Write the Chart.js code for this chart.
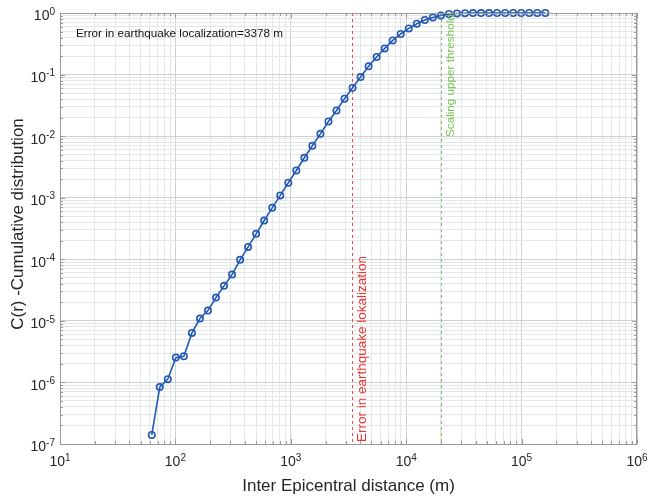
<!DOCTYPE html>
<html>
<head>
<meta charset="utf-8">
<script src="https://cdn.jsdelivr.net/npm/chart.js@4.4.1/dist/chart.umd.min.js"></script>
<style>
  html, body { margin: 0; padding: 0; background: #fff; }
  #wrap { width: 647px; height: 496px; position: relative; }
</style>
</head>
<body>
<div id="wrap"><canvas id="chartCorr"></canvas></div>
<script>
// distances (m) and cumulative distribution C(r)
const distances = [62.4, 73.2, 85.9, 100.9, 118.4, 139.0, 163.2, 191.5, 224.8, 263.9,
  309.7, 363.6, 426.8, 501.0, 588.0, 690.2, 810.2, 951.0, 1116, 1311,
  1538, 1806, 2120, 2488, 2920, 3428, 4024, 4723, 5544, 6508,
  7638, 8966, 10524, 12353, 14500, 17022, 19980, 23453, 27530, 32315,
  37931, 44524, 52264, 61349, 72012, 84528, 99220, 116466, 136710, 160472];
const cumulative = [1.40e-7, 8.4e-7, 1.13e-6, 2.53e-6, 2.66e-6, 6.37e-6, 1.09e-5, 1.47e-5, 2.39e-5, 3.70e-5,
  5.65e-5, 9.8e-5, 1.59e-4, 2.59e-4, 4.26e-4, 6.85e-4, 1.09e-3, 1.75e-3, 2.77e-3, 4.45e-3,
  6.97e-3, 1.09e-2, 1.73e-2, 2.61e-2, 4.05e-2, 6.11e-2, 9.12e-2, 0.136, 0.193, 0.266,
  0.359, 0.456, 0.562, 0.670, 0.769, 0.848, 0.914, 0.963, 0.984, 0.993,
  0.997, 0.998, 0.999, 0.9995, 1, 1, 1, 1, 1, 1];

const xDecades = [1, 2, 3, 4, 5, 6];
const yDecades = [-7, -6, -5, -4, -3, -2, -1, 0];

const erreurLocalisation = 3378;   // m
const seuilEchelle = 20000;        // m

const police = "'Liberation Sans', Arial, sans-serif";

function ticksLog(decades) {
  const out = [];
  for (let i = 0; i < decades.length; i++) {
    const base = Math.pow(10, decades[i]);
    if (i === decades.length - 1) { out.push({ value: base }); break; }
    for (let m = 1; m <= 9; m++) out.push({ value: m * base });
  }
  return out;
}

function estDecade(v) {
  const l = Math.log10(v);
  return Math.abs(l - Math.round(l)) < 1e-6;
}

function couleurGrille(ctx) {
  if (!ctx.tick) return '#e2e7e7';
  return estDecade(ctx.tick.value) ? '#cbd2d2' : '#e2e7e7';
}

// lignes verticales en pointillés
const lignesRepere = {
  id: 'lignesRepere',
  beforeDatasetsDraw(chart) {
    const { ctx, chartArea: a, scales: { x } } = chart;
    ctx.save();
    ctx.lineWidth = 1;
    ctx.setLineDash([3, 3]);
    [[erreurLocalisation, '#f24a4a'], [seuilEchelle, '#7cc35a']].forEach(([v, c]) => {
      const px = Math.round(x.getPixelForValue(v)) + 0.5;
      ctx.strokeStyle = c;
      ctx.beginPath();
      ctx.moveTo(px, a.top);
      ctx.lineTo(px, a.bottom);
      ctx.stroke();
    });
    ctx.restore();
  }
};

function etiquettePuissance(ctx, exp, px, py, align) {
  ctx.font = '14px ' + police;
  const wBase = ctx.measureText('10').width;
  ctx.font = '10px ' + police;
  const wExp = ctx.measureText(String(exp)).width;
  const total = wBase + wExp;
  const x0 = align === 'right' ? px - total : px - total / 2;
  ctx.textAlign = 'left';
  ctx.textBaseline = 'middle';
  ctx.font = '14px ' + police;
  ctx.fillText('10', x0, py + 3.5);
  ctx.font = '10px ' + police;
  ctx.fillText(String(exp), x0 + wBase, py - 1);
}

const habillage = {
  id: 'habillage',
  afterDraw(chart) {
    const { ctx, chartArea: a, scales: { x, y } } = chart;
    ctx.save();

    // cadre
    ctx.strokeStyle = '#9a9a9a';
    ctx.lineWidth = 1;
    ctx.strokeRect(a.left + 0.5, a.top + 0.5, a.right - a.left - 1, a.bottom - a.top);

    // graduations intérieures
    ctx.beginPath();
    x.ticks.forEach(t => {
      const px = Math.round(x.getPixelForValue(t.value)) + 0.5;
      const len = estDecade(t.value) ? 5 : 3;
      ctx.moveTo(px, a.bottom); ctx.lineTo(px, a.bottom - len);
      ctx.moveTo(px, a.top); ctx.lineTo(px, a.top + len);
    });
    y.ticks.forEach(t => {
      const py = Math.round(y.getPixelForValue(t.value)) + 0.5;
      const len = estDecade(t.value) ? 5 : 3;
      ctx.moveTo(a.left, py); ctx.lineTo(a.left + len, py);
      ctx.moveTo(a.right, py); ctx.lineTo(a.right - len, py);
    });
    ctx.stroke();

    // étiquettes des axes
    ctx.fillStyle = '#262626';
    xDecades.forEach(d => {
      etiquettePuissance(ctx, d, x.getPixelForValue(Math.pow(10, d)), a.bottom + 15, 'center');
    });
    yDecades.forEach(d => {
      etiquettePuissance(ctx, d, a.left - 5, y.getPixelForValue(Math.pow(10, d)), 'right');
    });

    // titres des axes
    ctx.font = '17px ' + police;
    ctx.textAlign = 'center';
    ctx.textBaseline = 'middle';
    ctx.fillText('Inter Epicentral distance (m)', (a.left + a.right) / 2, 486);
    ctx.save();
    ctx.translate(18, 224);
    ctx.rotate(-Math.PI / 2);
    ctx.fillText('C(r) -Cumulative distribution', 0, 0);
    ctx.restore();

    // annotation
    ctx.font = '11.7px ' + police;
    ctx.textAlign = 'left';
    ctx.fillStyle = '#111';
    ctx.fillText('Error in earthquake localization=' + erreurLocalisation + ' m', 76, 34);

    // textes verticaux
    const xr = x.getPixelForValue(erreurLocalisation);
    ctx.save();
    ctx.translate(xr + 10, a.bottom - 2);
    ctx.rotate(-Math.PI / 2);
    ctx.font = '13.5px ' + police;
    ctx.fillStyle = '#ee3333';
    ctx.textAlign = 'left';
    ctx.fillText('Error in earthquake lokalization', 0, 0);
    ctx.restore();

    const xs = x.getPixelForValue(seuilEchelle);
    ctx.save();
    ctx.translate(xs + 10, 137);
    ctx.rotate(-Math.PI / 2);
    ctx.font = '11.7px ' + police;
    ctx.fillStyle = '#72c24f';
    ctx.textAlign = 'left';
    ctx.fillText('Scaling upper threshold', 0, 0);
    ctx.restore();

    ctx.restore();
  }
};

new Chart(document.getElementById('chartCorr'), {
  type: 'line',
  data: {
    datasets: [{
      data: distances.map((d, i) => ({ x: d, y: cumulative[i] })),
      borderColor: '#2358b4',
      borderWidth: 1.6,
      pointStyle: 'circle',
      pointRadius: 3.2,
      pointBorderWidth: 1.6,
      pointBorderColor: '#2358b4',
      pointBackgroundColor: 'rgba(0,0,0,0)',
      tension: 0,
      clip: false
    }]
  },
  options: {
    responsive: true,
    maintainAspectRatio: false,
    animation: false,
    layout: { padding: { left: 60, right: 10, top: 13, bottom: 52 } },
    plugins: { legend: { display: false }, tooltip: { enabled: false } },
    scales: {
      x: {
        type: 'logarithmic',
        min: 10,
        max: 1e6,
        afterBuildTicks: s => { s.ticks = ticksLog(xDecades); },
        afterFit: s => { s.height = 0; },
        ticks: { display: false },
        border: { display: false },
        grid: { drawTicks: false, color: couleurGrille, lineWidth: 1 }
      },
      y: {
        type: 'logarithmic',
        min: 1e-7,
        max: 1,
        afterBuildTicks: s => { s.ticks = ticksLog(yDecades); },
        afterFit: s => { s.width = 0; },
        ticks: { display: false },
        border: { display: false },
        grid: { drawTicks: false, color: couleurGrille, lineWidth: 1 }
      }
    }
  },
  plugins: [lignesRepere, habillage]
});
</script>
</body>
</html>
